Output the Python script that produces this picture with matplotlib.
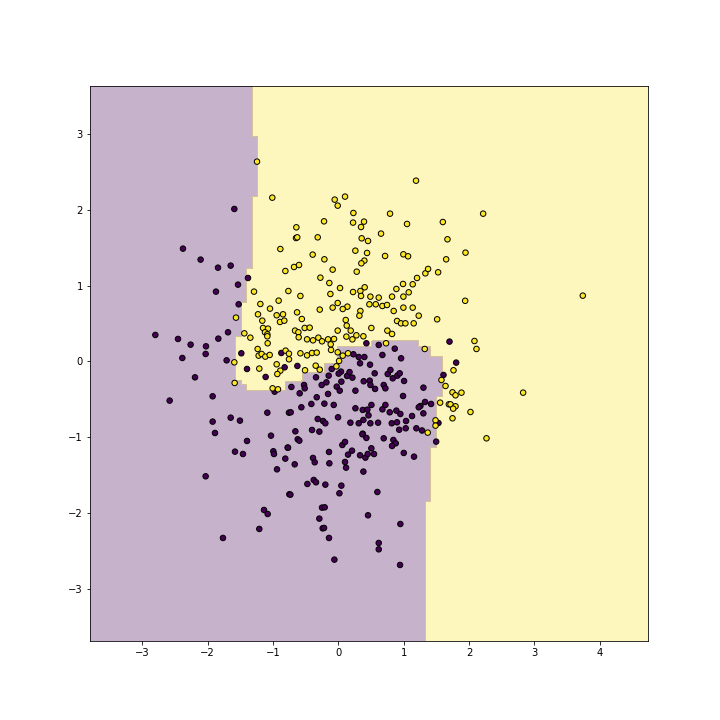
import numpy as np
import matplotlib
matplotlib.use("Agg")
import matplotlib.pyplot as plt

# class 0 points (dark purple)
x_class0 = [-1.593, -2.379, -2.109, -1.843, -1.649, -1.384, -1.537, -1.874,
            -1.527, -2.802, -2.455, -2.262, -2.027, -2.032, -1.838, -1.690, -2.389, -1.711,
            -1.486, -1.399, -2.195, -1.114, -0.874, -0.823, -0.976, -1.925, -2.583, -1.088,
            -0.757, -1.649, -1.507, -1.925, -1.889, -1.032,
            0.428, 0.617, 0.673, 0.959, 0.229, 0.311, 0.397, 0.331, 0.484, -0.628,
            -0.343, -0.103, 0.040, 0.132, 0.004, -0.149, 0.214, 0.387, 0.479, 0.555,
            0.754, 0.831, 0.902, 0.938, 0.693, 0.719, 0.561, 0.260, 0.045, -0.026,
            0.020, -0.159, -0.256, -0.184, -0.526, -0.516, -0.720, -0.593, 0.989, 1.326,
            1.418, 1.255, 1.229, -0.332, -0.414, -0.215, -0.072, 0.260, 0.372, 0.443,
            0.505, 0.673, 0.719, 0.785, 0.887, 0.948, 1.127, 1.035, 1.300, -0.567,
            -0.730, -0.317, -0.235, -0.200, -0.006, 0.183, 0.311, 0.382, 0.489, 0.607,
            0.816, 0.897, 1.030, 1.193, -0.659, -0.292, -0.404, 0.372,
            1.700, 1.802, 1.608, 1.531,
            -1.399, -1.583, -1.461, -0.996, -0.986, -0.777, -0.813, -0.940, -2.032, -0.751,
            -1.139, -1.083, -1.211, -1.767,
            -0.623, -0.598, -0.771, -0.669, -0.389, -0.363, -0.144, -0.139, 0.060, 0.101,
            0.147, 0.208, 0.101, 0.117, 0.367, 0.428, 0.331, 0.413, 0.448, 0.504,
            0.545, 0.693, 0.841, 0.877, 0.821, 1.000, 1.157, 0.382, -0.475, -0.378,
            -0.343, -0.200, 0.045, 0.015, -0.735, 0.596, -0.251, -0.210, 0.453, -0.292,
            -0.241, -0.220, -0.144, 0.948, 0.617, 0.617, -0.062, 0.943,
            1.496, 0.862, 1.301, 1.280, 0.930, 0.460, 0.170, 0.490, 0.796, 1.005]
y_class0 = [2.011, 1.488, 1.343, 1.237, 1.264, 1.101, 1.013, 0.921,
            0.754, 0.350, 0.297, 0.222, 0.200, 0.099, 0.301, 0.385, 0.046, 0.015,
            0.108, -0.099, -0.209, -0.204, 0.112, -0.077, -0.398, -0.459, -0.516, -0.675,
            -0.675, -0.741, -0.780, -0.793, -0.943, -0.978,
            0.240, 0.218, 0.086, 0.042, 0.095, 0.059, 0.059, -0.024, -0.042, -0.059,
            -0.209, -0.099, -0.134, -0.191, -0.160, -0.187, -0.213, -0.261, -0.253, -0.156,
            -0.165, -0.222, -0.187, -0.156, -0.310, -0.354, -0.362, -0.385, -0.266, -0.332,
            -0.385, -0.428, -0.310, -0.275, -0.310, -0.354, -0.336, -0.420, -0.455, -0.534,
            -0.560, -0.587, -0.604, -0.472, -0.560, -0.556, -0.573, -0.617, -0.639, -0.635,
            -0.573, -0.631, -0.573, -0.670, -0.648, -0.692, -0.719, -0.785, -0.684, -0.604,
            -0.670, -0.758, -0.785, -0.815, -0.736, -0.807, -0.815, -0.771, -0.815, -0.807,
            -0.815, -0.802, -0.881, -0.881, -0.921, -0.925, -0.903, -0.952,
            0.262, -0.015, -0.178, -0.811,
            -1.048, -1.189, -1.220, -1.184, -1.220, -1.136, -1.281, -1.422, -1.514, -1.751,
            -1.958, -2.011, -2.208, -2.327,
            -1.026, -1.044, -1.136, -1.356, -1.272, -1.329, -1.193, -1.343, -1.101, -1.061,
            -1.228, -1.176, -1.325, -1.400, -0.960, -1.008, -1.237, -1.268, -1.220, -1.145,
            -1.220, -1.013, -1.035, -1.079, -1.114, -1.206, -1.255, -1.452, -1.615, -1.562,
            -1.593, -1.624, -1.637, -1.738, -1.756, -1.721, -1.927, -1.923, -2.028, -2.072,
            -2.200, -2.195, -2.327, -2.143, -2.393, -2.477, -2.613, -2.683,
            -1.057, 0.169, -0.345, -0.910, -0.900, -0.710, -0.140, -0.310, -0.112, -0.257]

# class 1 points (yellow)
x_class1 = [-1.246, -1.012, -0.889, -1.292,
            1.188, -0.057, 0.101, -0.011, 0.229, 0.790, -0.220, 0.224, 0.392, 0.346,
            1.050, -0.644, 0.652, -0.649, -0.630, -0.317, 0.356, 0.453, 0.259, 0.438,
            -0.394, -0.215, 0.714, 0.994, 1.066, 0.397, 0.351, -0.088, 0.280, -0.812,
            -0.679, -0.603, -0.276, -0.139, 0.025, 0.402, 0.224, 0.336, 0.346, -0.766,
            -0.582, -0.123, 0.489, 0.617, 0.821, 0.887, 0.989, 1.137, 1.076, 0.994,
            1.203, 1.331, 1.372,
            2.215, 1.598, 1.669, 1.945, 1.649, 1.526, 1.940, 3.740,
            -1.568, -1.195, -0.915, -1.047, -1.231, -0.945, -0.848, -1.165, -0.894, -0.828,
            -1.154, -1.078, -1.124, -1.088, -1.088, -1.440, -1.348, -1.083, -1.236, -1.221,
            -1.175, -1.119, -1.052, -0.808, -0.757, -0.757, -1.593, -1.211, -0.945, -0.889,
            -0.935, -1.588, -1.007, -0.925,
            -0.286, -0.011, 0.137, 0.066, -0.088, 0.336, 0.321, 0.474, 0.571, 0.673,
            0.744, 0.846, 0.994, 1.137, 1.229, 0.897, 0.958, 1.025, 1.152, -0.633,
            -0.516, -0.440, -0.664, -0.613, -0.608, -0.480, -0.389, -0.307, -0.251, -0.159,
            -0.118, -0.067, -0.011, 0.112, 0.127, 0.188, 0.122, 0.214, 0.275, 0.382,
            0.504, 0.749, 0.821, 0.729, 1.321, -0.582, -0.480, -0.404, -0.332, -0.011,
            0.066, 0.147, -0.113, -0.348, -0.286, -0.511, -0.031, 0.010, 1.367, -0.560,
            1.511, 2.082, 2.113, 1.761, 1.577, 1.639, 1.746, 1.792, 1.883, 2.827,
            1.557, 1.690, 1.715, 1.792, 1.756, 2.021, 1.746, 1.486, 1.486, 2.266]
y_class1 = [2.635, 2.160, 1.483, 0.921,
            2.384, 2.134, 2.174, 2.055, 1.958, 1.949, 1.848, 1.831, 1.844, 1.773,
            1.813, 1.769, 1.686, 1.628, 1.637, 1.637, 1.624, 1.589, 1.461, 1.431,
            1.409, 1.347, 1.391, 1.413, 1.387, 1.330, 1.294, 1.211, 1.184, 1.193,
            1.246, 1.272, 1.105, 1.035, 0.969, 0.978, 0.916, 0.929, 0.864, 0.929,
            0.864, 0.890, 0.855, 0.842, 0.855, 0.956, 1.022, 1.018, 0.912, 0.855,
            1.101, 1.162, 1.220,
            1.949, 1.839, 1.611, 1.435, 1.347, 1.176, 0.800, 0.868,
            0.578, 0.758, 0.802, 0.697, 0.622, 0.609, 0.622, 0.538, 0.521, 0.538,
            0.442, 0.433, 0.385, 0.358, 0.332, 0.371, 0.314, 0.240, 0.165, 0.077,
            0.099, 0.064, 0.086, 0.143, 0.103, 0.029, -0.011, -0.094, -0.037, -0.121,
            -0.165, -0.283, -0.354, -0.367,
            0.684, 0.771, 0.723, 0.692, 0.710, 0.666, 0.604, 0.754, 0.754, 0.732,
            0.745, 0.666, 0.710, 0.710, 0.604, 0.534, 0.503, 0.503, 0.503, 0.648,
            0.442, 0.446, 0.407, 0.385, 0.319, 0.292, 0.279, 0.314, 0.266, 0.292,
            0.226, 0.297, 0.407, 0.547, 0.473, 0.407, 0.328, 0.292, 0.345, 0.332,
            0.442, 0.407, 0.363, 0.240, 0.165, 0.108, 0.081, 0.112, 0.117, 0.121,
            0.077, 0.108, 0.152, -0.055, -0.108, -0.116, -0.064, 0.007, -0.938, 0.560,
            0.556, 0.270, 0.165, -0.116, -0.244, -0.323, -0.407, -0.446, -0.411, -0.411,
            -0.543, -0.565, -0.565, -0.591, -0.622, -0.666, -0.749, -0.776, -0.846, -1.013]

# decision regions (class 0 area)
left_band_y = [9.0, 2.974, 2.169, 1.220, 0.785, 0.336, -0.244, -0.310, -0.389]
left_band_x = [-1.317, -1.240, -1.317, -1.409, -1.485, -1.577, -1.485, -1.409]
blob_x_edges = [-9.0, -0.812, -0.556, -0.214, -0.015, 0.516, 1.225, 1.332, 1.409, 1.501, 1.593]
blob_top = [-0.389, -0.257, -0.152, -0.033, 0.191, 0.270, 0.191, 0.191, 0.059, 0.059]
blob_bottom = [-9.0, -9.0, -9.0, -9.0, -9.0, -9.0, -9.0, -1.853, -1.130, -0.470]


def predict(xx, yy):
    zz = np.ones_like(xx)
    for i in range(len(left_band_x)):
        m = (yy <= left_band_y[i]) & (yy > left_band_y[i + 1]) & (xx < left_band_x[i])
        zz[m] = 0
    for i in range(len(blob_top)):
        m = (xx >= blob_x_edges[i]) & (xx < blob_x_edges[i + 1]) & \
            (yy < blob_top[i]) & (yy >= blob_bottom[i])
        zz[m] = 0
    return zz


X = np.column_stack([np.r_[x_class0, x_class1], np.r_[y_class0, y_class1]])
y = np.r_[np.zeros(len(x_class0)), np.ones(len(x_class1))]

x_min, x_max = X[:, 0].min() - 1, X[:, 0].max() + 1
y_min, y_max = X[:, 1].min() - 1, X[:, 1].max() + 1
xx, yy = np.meshgrid(np.arange(x_min, x_max, 0.01),
                     np.arange(y_min, y_max, 0.01))
Z = predict(xx, yy)

plt.figure(figsize=(10, 10), dpi=72)
plt.contourf(xx, yy, Z, levels=[-0.5, 0.5, 1.5],
             colors=plt.cm.viridis([0.0, 1.0]), alpha=0.3)
plt.scatter(X[:, 0], X[:, 1], c=y, cmap='viridis', s=30, edgecolor='k')
plt.savefig("out.png", dpi=72)
